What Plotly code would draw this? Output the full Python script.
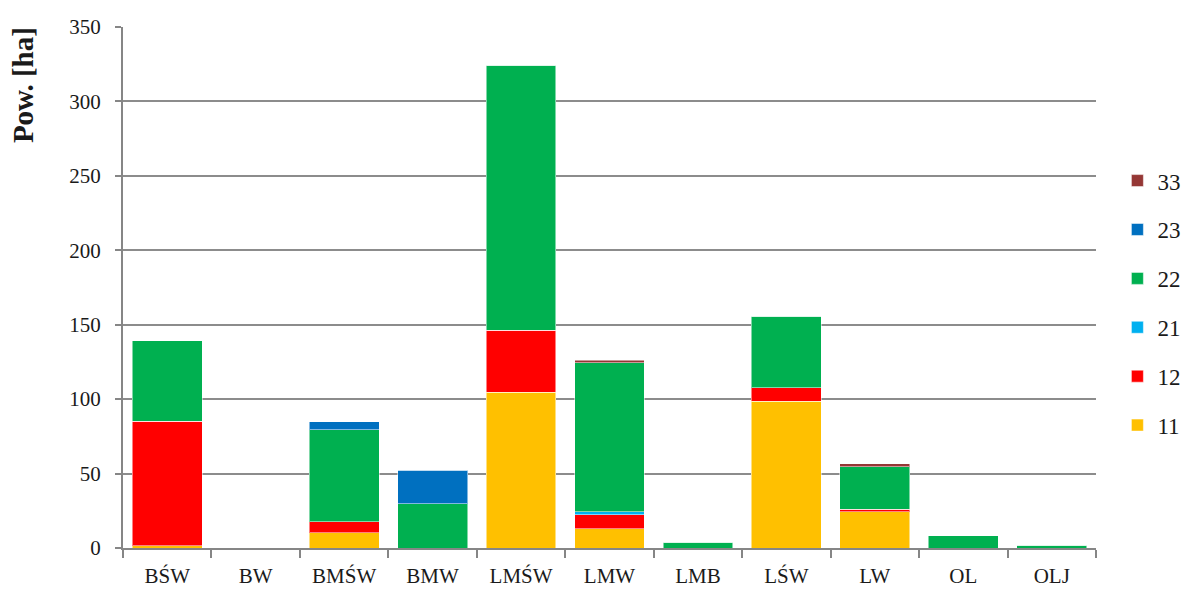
import plotly.graph_objects as go

categories = ["BŚW", "BW", "BMŚW", "BMW", "LMŚW", "LMW", "LMB", "LŚW", "LW", "OL", "OLJ"]
series_names = ["11", "12", "21", "22", "23", "33"]
s11 = [1.5, 0, 10.3, 0, 104.6, 12.8, 0, 98.5, 24.2, 0, 0]
s12 = [83.8, 0, 7.4, 0, 41.8, 9.4, 0, 9.0, 2.0, 0, 0]
s21 = [0, 0, 0, 0, 0, 2.2, 0, 0, 0, 0, 0]
s22 = [54.0, 0, 61.8, 29.8, 178.0, 100.0, 4.0, 48.3, 28.4, 8.1, 2.0]
s23 = [0, 0, 5.4, 22.4, 0, 0, 0, 0, 0, 0, 0]
s33 = [0, 0, 0, 0, 0, 1.8, 0, 0, 2.0, 0, 0]
colors = ["#FFC000", "#FF0000", "#00B0F0", "#00B050", "#0070C0", "#953735"]
y_ticks = [0, 50, 100, 150, 200, 250, 300, 350]

font_family = "Liberation Serif, DejaVu Serif, serif"

fig = go.Figure()
all_series = [s11, s12, s21, s22, s23, s33]
for i, (name, vals, col) in enumerate(zip(series_names, all_series, colors)):
    fig.add_trace(go.Bar(
        x=categories, y=vals, name=name,
        marker=dict(color=col, line=dict(color="rgba(255,255,255,0.5)", width=1)),
        legendgroup=name,
        legendrank=len(series_names) - i,
    ))

fig.update_layout(
    barmode="stack",
    bargap=0.21,
    width=1189, height=593,
    margin=dict(l=115, r=97, t=19, b=53),
    paper_bgcolor="white", plot_bgcolor="white",
    font=dict(family=font_family, size=20, color="#1a1a1a"),
    showlegend=True,
    legend=dict(
        traceorder="grouped", tracegroupgap=16,
        x=1.022, xanchor="left", y=0.47, yanchor="middle",
        font=dict(size=23, family=font_family),
        itemwidth=30,
    ),
    xaxis=dict(
        automargin=False,
        showline=True, linecolor="#868686", linewidth=2,
        ticks="outside", tickson="boundaries", ticklen=8, tickcolor="#868686", tickwidth=2,
        tickfont=dict(size=21, family=font_family),
        ticklabelstandoff=8,
    ),
    yaxis=dict(
        automargin=False,
        range=[0, 350], tickvals=y_ticks,
        showline=True, linecolor="#868686", linewidth=2,
        ticks="outside", ticklen=6, tickcolor="#868686", tickwidth=2,
        showgrid=True, gridcolor="#8c8c8c", gridwidth=2,
        tickfont=dict(size=21, family=font_family),
        ticklabelstandoff=10,
        zeroline=False,
    ),
    annotations=[dict(
        text="<b>Pow. [ha]</b>", textangle=-90,
        xref="paper", yref="paper", x=-0.1025, y=0.889,
        xanchor="center", yanchor="middle", showarrow=False,
        font=dict(size=29, family=font_family),
    )],
)

fig.write_html("out.html")
